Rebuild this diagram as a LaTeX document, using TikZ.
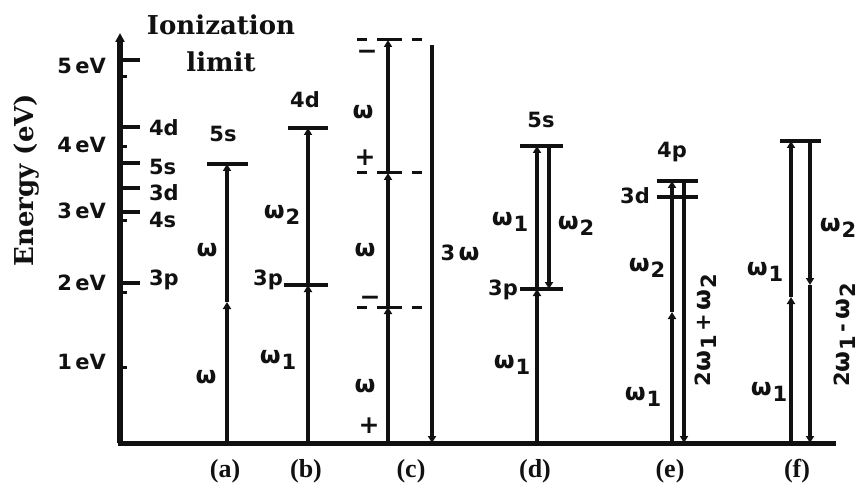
\documentclass[tikz,border=0pt]{standalone}
\usepackage{fontspec}
\setmainfont{DejaVu Serif}
\setsansfont{DejaVu Sans}
\newfontfamily\panelfont{Liberation Serif}
\usepackage{xcolor}
\usetikzlibrary{arrows.meta}
\definecolor{ink}{HTML}{111111}
\newcommand{\wglyph}{{\fontsize{24}{28}\selectfont ω}}
\newcommand{\wsub}[1]{\wglyph\kern1pt\raisebox{-0.55ex}{#1}}

\begin{document}
\begin{tikzpicture}[x=1pt,y=-1pt,line width=4pt,draw=ink,text=ink,
  every node/.style={inner sep=0pt},
  level/.style={line width=4pt},
  photon/.style={line width=4pt,-{Triangle[length=7pt,width=8pt]}},
  tag/.style={font=\sffamily\bfseries\fontsize{21}{25}\selectfont},
  sign/.style={font=\sffamily\bfseries\fontsize{25}{29}\selectfont},
  panel/.style={font=\panelfont\bfseries\fontsize{26}{30}\selectfont},
  title/.style={font=\rmfamily\bfseries\fontsize{26}{30}\selectfont}]
  \useasboundingbox (0,0) rectangle (864,489);

  \coordinate (origin) at (120,443);
  \coordinate (top) at (120,33);
  \coordinate (right) at (836,443);
  \draw[line width=5.5pt,-{Triangle[length=9pt,width=9pt]}] (origin) -- (top);
  \draw[line width=5pt] ([xshift=-2.5pt]origin) -- (right);

  \foreach \yy in {77,147,220,292,367}
    \draw[line width=3pt] (120,\yy) -- ++(7,0);
  \foreach \yy in {60,127,163,188,212,283}
    \draw[level] (120,\yy) -- ++(20,0);

  \foreach \yy/\ev in {66/5,145/4,211/3,283/2,362/1}
    \node[tag,anchor=east] (ev\ev) at (108,\yy) {\ev\,eV};
  \foreach \yy/\state in {128/4d,167/5s,193/3d,220/4s,280/3p}
    \node[tag,anchor=west] (s\state) at (147,\yy) {\state};

  \node[title,rotate=90,anchor=base] (energy) at (33,180) {Energy (eV)};
  \node[title,anchor=base] (ion) at (221,35) {Ionization};
  \node[title,anchor=base] (limit) at (221,72) {limit};

  \coordinate (a0) at (227,443);
  \coordinate (a1) at (227,302);
  \coordinate (a2) at (227,164);
  \draw[level] (207,164) -- (248,164);
  \draw[photon] (a0) -- (a1);
  \draw[photon] (a1) -- (a2);
  \node[tag] (la) at (223,134) {5s};
  \node[tag] (wa2) at (207,250) {\wglyph};
  \node[tag] (wa1) at (206,377) {\wglyph};

  \coordinate (b0) at (308,443);
  \coordinate (b1) at (308,285);
  \coordinate (b2) at (308,128);
  \draw[level] (288,128) -- (328,128);
  \draw[level] (284,285) -- (328,285);
  \draw[photon] (b0) -- (b1);
  \draw[photon] (b1) -- (b2);
  \node[tag] (lb2) at (305,100) {4d};
  \node[tag] (lb1) at (268,280) {3p};
  \node[tag] (wb2) at (282,215) {\wsub{2}};
  \node[tag] (wb1) at (278,360) {\wsub{1}};

  \coordinate (c0) at (388,443);
  \coordinate (c1) at (388,307);
  \coordinate (c2) at (388,173);
  \coordinate (c3) at (388,40);
  \coordinate (t3) at (432,45);
  \coordinate (t0) at (432,443);
  \foreach \yy in {40,173,307}
    \draw[line width=3pt,dash pattern=on 10pt off 10pt on 25pt off 10pt on 10pt] (357,\yy) -- (422,\yy);
  \draw[photon] (c0) -- (c1);
  \draw[photon] (c1) -- (c2);
  \draw[photon] (c2) -- (c3);
  \draw[photon] (t3) -- (t0);
  \node[sign,anchor=base] (mc3) at (367,60) {−};
  \node[tag] (wc3) at (363,112) {\wglyph};
  \node[sign] (pc2) at (365,158) {+};
  \node[tag] (wc2) at (365,250) {\wglyph};
  \node[sign,anchor=base] (mc1) at (370,305) {−};
  \node[tag] (wc1) at (365,386) {\wglyph};
  \node[sign] (pc0) at (369,426) {+};
  \node[tag] (wt) at (460,253) {3\,\wglyph};

  \coordinate (d0) at (537,443);
  \coordinate (d1) at (537,289);
  \coordinate (d2) at (537,146);
  \coordinate (g2) at (549,146);
  \coordinate (g1) at (549,289);
  \draw[level] (520,146) -- (563,146);
  \draw[level] (520,289) -- (563,289);
  \draw[photon] (d0) -- (d1);
  \draw[photon] (d1) -- (d2);
  \draw[photon] (g2) -- (g1);
  \node[tag] (ld2) at (541,120) {5s};
  \node[tag] (ld1) at (503,290) {3p};
  \node[tag] (wd2) at (510,222) {\wsub{1}};
  \node[tag] (wg) at (576,226) {\wsub{2}};
  \node[tag] (wd1) at (512,365) {\wsub{1}};

  \coordinate (e0) at (672,443);
  \coordinate (e1) at (672,312);
  \coordinate (e2) at (672,181);
  \coordinate (h2) at (684,181);
  \coordinate (h0) at (684,443);
  \draw[level] (657,181) -- (698,181);
  \draw[level] (657,197) -- (698,197);
  \draw[photon] (e0) -- (e1);
  \draw[photon] (e1) -- (e2);
  \draw[photon] (h2) -- (h0);
  \node[tag] (le2) at (672,152) {4p};
  \node[tag] (le1) at (635,196) {3d};
  \node[tag] (we2) at (647,268) {\wsub{2}};
  \node[tag] (we1) at (643,397) {\wsub{1}};
  \node[tag,rotate=90,anchor=base] (sum) at (710,330) {2\wsub{1}\,+\,\wsub{2}};

  \coordinate (f0) at (791,443);
  \coordinate (f1) at (791,297);
  \coordinate (f2) at (791,141);
  \coordinate (k2) at (810,141);
  \coordinate (k1) at (810,285);
  \coordinate (k0) at (810,443);
  \draw[level] (780,141) -- (821,141);
  \draw[photon] (f0) -- (f1);
  \draw[photon] (f1) -- (f2);
  \draw[photon] (k2) -- (k1);
  \draw[photon] (k1) -- (k0);
  \node[tag] (wf2) at (765,272) {\wsub{1}};
  \node[tag] (wf1) at (769,392) {\wsub{1}};
  \node[tag] (wk) at (838,228) {\wsub{2}};
  \node[tag,rotate=90,anchor=base] (diff) at (849,335) {2\wsub{1}\,-\,\wsub{2}};

  \foreach \x/\p in {225/a,306/b,411/c,535/d,670/e,797/f}
    \node[panel] (p\p) at (\x,471) {(\p)};
\end{tikzpicture}
\end{document}
